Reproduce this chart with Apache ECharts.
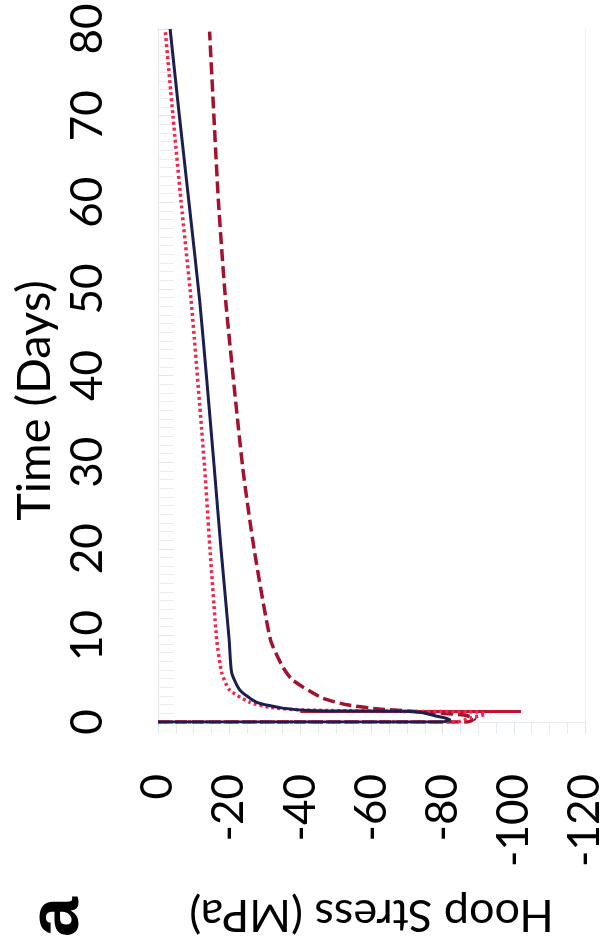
<!DOCTYPE html>
<html>
<head>
<meta charset="utf-8">
<script src="https://cdn.jsdelivr.net/npm/echarts@6/dist/echarts.min.js"></script>
<style>
  html, body { margin: 0; padding: 0; background: #fff; }
  #chart { width: 607px; height: 944px; }
</style>
</head>
<body>
<div id="chart"></div>
<script>
// Hoop stress history, drawn with time running up the page and stress across it.
const timeTicks = [0, 10, 20, 30, 40, 50, 60, 70, 80];
const stressTicks = [0, -20, -40, -60, -80, -100, -120];

// Solid navy curve
const solidTime   = [0, 0, 0.3, 0.7, 1.1, 1.25, 1.3, 1.6, 2.3, 3.7, 5.7, 9.5, 20, 29.4, 40, 48.7, 60, 70, 80];
const solidStress = [0, -80, -82, -78, -74, -70, -44, -35, -27.6, -23, -20.7, -20, -17.7, -15.8, -13.6, -11.7, -8.7, -6, -3.4];

// Dotted red curve
const dottedTime   = [0, 0, 0.5, 0.9, 1.15, 1.25, 1.4, 1.7, 2.3, 3.7, 5.7, 9.5, 20, 29.4, 48.7, 60, 70, 80];
const dottedStress = [0, -84, -88, -92, -90, -60, -40, -31.3, -25.7, -20.1, -17.9, -16.5, -14.6, -13.1, -9.3, -6.5, -4.2, -2];

// Dashed dark-red curve
const dashedTime   = [0, 0, 0.4, 0.8, 1.15, 1.5, 2.0, 2.8, 4.85, 6.4, 9.5, 20, 29.4, 48.7, 60, 70, 79.7];
const dashedStress = [0, -87, -89, -86, -75, -62, -53, -46, -37.8, -35, -31.6, -27, -23.8, -19, -17, -15.7, -14.5];

// Solid red peak line
const peakTime   = [1.2, 1.2];
const peakStress = [-40, -102];

const pairs = (t, s) => t.map((v, i) => [s[i], v]);

const labelFont = 'Lato, "Open Sans", sans-serif';

const chart = echarts.init(document.getElementById('chart'), null, { renderer: 'canvas' });
chart.setOption({
  animation: false,
  backgroundColor: '#ffffff',
  grid: { left: 158, right: 19, top: 29, bottom: 222 },
  xAxis: {
    type: 'value',
    min: -120, max: 0, interval: 20,
    inverse: true,
    position: 'bottom',
    name: 'Hoop Stress (MPa)',
    nameLocation: 'middle',
    nameRotate: 180,
    nameGap: 170,
    nameTextStyle: { fontFamily: labelFont, fontSize: 45, color: '#000' },
    axisLine: { show: true, lineStyle: { color: '#e4ecf2', width: 1 } },
    axisTick: { show: true, length: 12, lineStyle: { color: '#dde6ee' } },
    minorTick: { show: true, splitNumber: 4, length: 12, lineStyle: { color: '#e4ecf2' } },
    splitLine: { show: false },
    axisLabel: {
      rotate: 90, margin: 52,
      fontFamily: labelFont, fontSize: 44, color: '#000',
      formatter: v => String(v)
    }
  },
  yAxis: [
    {
      type: 'value',
      min: 0, max: 80, interval: 10,
      position: 'left',
      name: 'Time (Days)',
      nameLocation: 'middle',
      nameRotate: 90,
      nameGap: 100,
      nameTextStyle: { fontFamily: labelFont, fontSize: 47, color: '#000', padding: [0, 50, 0, 0] },
      axisLine: { show: true, lineStyle: { color: '#e8e8e8', width: 1 } },
      axisTick: { show: true, inside: true, length: 16, lineStyle: { color: '#e6e6e6' } },
      minorTick: { show: true, splitNumber: 10, length: 16, lineStyle: { color: '#ececec' } },
      splitLine: { show: false },
      axisLabel: {
        rotate: 90, margin: 48,
        fontFamily: labelFont, fontSize: 44, color: '#000'
      }
    },
    {
      // plain right-hand frame edge
      type: 'value',
      min: 0, max: 80, interval: 10,
      position: 'right',
      axisLine: { show: true, lineStyle: { color: '#eeeeee', width: 1 } },
      axisTick: { show: false },
      axisLabel: { show: false },
      splitLine: { show: false }
    }
  ],
  series: [
    {
      name: 'Peak', type: 'line', showSymbol: false, symbol: 'none',
      data: pairs(peakTime, peakStress),
      lineStyle: { color: '#c0142c', width: 3, type: 'solid' }, z: 3
    },
    {
      name: 'Dashed', type: 'line', showSymbol: false, symbol: 'none', smooth: 0.2,
      data: pairs(dashedTime, dashedStress),
      lineStyle: { color: '#a3122e', width: 3.5, type: [12, 5] }, z: 4
    },
    {
      name: 'Dotted', type: 'line', showSymbol: false, symbol: 'none', smooth: 0.2,
      data: pairs(dottedTime, dottedStress),
      lineStyle: { color: '#f0284d', width: 3.5, type: [3, 3] }, z: 5
    },
    {
      name: 'Solid', type: 'line', showSymbol: false, symbol: 'none', smooth: 0.2,
      data: pairs(solidTime, solidStress),
      lineStyle: { color: '#1b1e50', width: 3, type: 'solid' }, z: 6
    }
  ],
  graphic: [
    {
      type: 'text', x: 58, y: 917, rotation: Math.PI / 2,
      style: {
        text: 'a', fontFamily: 'Liberation Sans, Arial, sans-serif',
        fontWeight: 'bold', fontSize: 72, fill: '#000',
        textAlign: 'center', textVerticalAlign: 'middle'
      }
    }
  ]
});
</script>
</body>
</html>
